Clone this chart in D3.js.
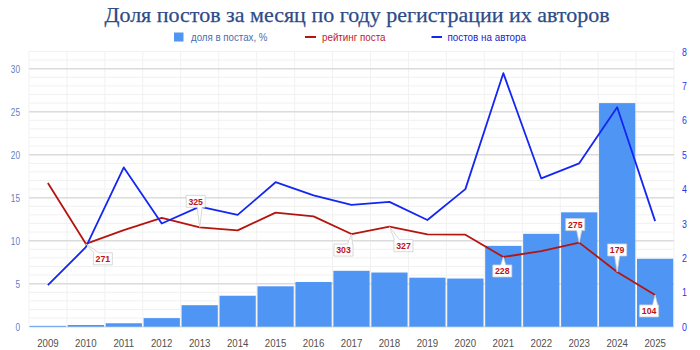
<!DOCTYPE html>
<html>
<head>
<meta charset="utf-8">
<script src="https://cdn.jsdelivr.net/npm/d3@7"></script>
<style>
  html, body { margin: 0; padding: 0; background: #fff; }
  svg { display: block; }
</style>
</head>
<body>
<svg id="chart" width="700" height="350"></svg>
<script>
// Registration years of authors
const years = ["2009","2010","2011","2012","2013","2014","2015","2016","2017",
               "2018","2019","2020","2021","2022","2023","2024","2025"];
// Share of the month's posts, % (bars, left axis)
const postShare = [0.1, 0.2, 0.4, 1.0, 2.5, 3.6, 4.7, 5.2, 6.5, 6.3, 5.7, 5.6, 9.4, 10.8, 13.3, 26.0, 7.9];
// Average post rating (red line)
const postRating = [470, 271, 316, 356, 325, 315, 373, 361, 303, 327, 302, 301, 228, 247, 275, 179, 104];
// Posts per author (blue line, right axis)
const postsPerAuthor = [1.21, 2.31, 4.63, 3.0, 3.49, 3.25, 4.2, 3.82, 3.54, 3.63, 3.1, 4.0, 7.37, 4.31, 4.75, 6.38, 3.07];
// Rating values that get a callout
const labelledYears = ["2010","2013","2017","2018","2021","2023","2024","2025"];
// Axis ticks
const leftTicks = [0, 5, 10, 15, 20, 25, 30];
const rightTicks = [0, 1, 2, 3, 4, 5, 6, 7, 8];
const legendLabels = ["доля в постах, %", "рейтинг поста", "постов на автора"];

// Callout box offsets from their point (dx, dy)
const calloutOffset = {
  "2010": [17, 15], "2013": [-4, -26], "2017": [-8, 16], "2018": [14, 19],
  "2021": [-1, 14], "2023": [-4, -18], "2024": [0, -22], "2025": [-6, 16]
};

const svg = d3.select("#chart");
const plot = { left: 29, right: 674, top: 51.5, bottom: 326.7 };

const x = d3.scaleBand().domain(years).range([plot.left, plot.right]).paddingInner(0.045).paddingOuter(0.02);
const xStep = (plot.right - plot.left) / years.length;
const yL = d3.scaleLinear().domain([0, 32]).range([plot.bottom, plot.top]);
const yR = d3.scaleLinear().domain([0, 8]).range([plot.bottom, plot.top]);
const yRating = d3.scaleLinear().domain([0, 900]).range([plot.bottom, plot.top]);
const cx = d => x(d) + x.bandwidth() / 2;

const colors = { bar: "#4f96f4", red: "#b5150f", blue: "#1426f2" };
const sans = "'Liberation Sans', Arial, sans-serif";

// Squeeze a text node horizontally so it reads like a narrow face
function condense(sel, factor) {
  sel.each(function () {
    const len = this.getComputedTextLength();
    d3.select(this).attr("textLength", len * factor).attr("lengthAdjust", "spacingAndGlyphs");
  });
}

// Title
svg.append("text")
  .attr("x", 357).attr("y", 22)
  .attr("text-anchor", "middle")
  .attr("font-family", "'Liberation Serif', 'DejaVu Serif', serif")
  .attr("font-size", 22)
  .attr("fill", "#2d4b88")
  .attr("stroke", "#2d4b88").attr("stroke-width", 0.25)
  .text("Доля постов за месяц по году регистрации их авторов");

// Legend
const lg = svg.append("g").attr("font-family", sans).attr("font-size", 11.5);
lg.append("rect").attr("x", 174).attr("y", 32.5).attr("width", 9.5).attr("height", 9).attr("fill", colors.bar);
lg.append("text").attr("x", 191).attr("y", 41).attr("fill", "#4d6cb0")
  .attr("textLength", 76.5).attr("lengthAdjust", "spacingAndGlyphs").text(legendLabels[0]);
lg.append("rect").attr("x", 305).attr("y", 36).attr("width", 11).attr("height", 2).attr("fill", colors.red);
lg.append("text").attr("x", 322).attr("y", 41).attr("fill", "#c0222a")
  .attr("textLength", 63.5).attr("lengthAdjust", "spacingAndGlyphs").text(legendLabels[1]);
lg.append("rect").attr("x", 431.5).attr("y", 36).attr("width", 10.5).attr("height", 2).attr("fill", colors.blue);
lg.append("text").attr("x", 447.5).attr("y", 41).attr("fill", "#1a22d0")
  .attr("textLength", 78.5).attr("lengthAdjust", "spacingAndGlyphs").text(legendLabels[2]);

// Grid: minor horizontal lines, vertical category lines, major lines
const grid = svg.append("g");
grid.selectAll("line.minor").data(d3.range(0, 33)).join("line")
  .attr("x1", plot.left).attr("x2", plot.right)
  .attr("y1", d => yL(d)).attr("y2", d => yL(d))
  .attr("stroke", "#f1f1f1").attr("stroke-width", 1);
grid.selectAll("line.vert").data(d3.range(0, years.length + 1)).join("line")
  .attr("x1", i => plot.left + i * xStep).attr("x2", i => plot.left + i * xStep)
  .attr("y1", plot.top).attr("y2", plot.bottom)
  .attr("stroke", "#f1f1f1").attr("stroke-width", 1);
grid.selectAll("line.major").data(leftTicks).join("line")
  .attr("x1", plot.left).attr("x2", plot.right)
  .attr("y1", d => yL(d)).attr("y2", d => yL(d))
  .attr("stroke", "#dcdcdc").attr("stroke-width", 1.5);

// Bars
svg.append("g").selectAll("rect").data(years).join("rect")
  .attr("x", d => x(d))
  .attr("width", x.bandwidth())
  .attr("y", (d, i) => yL(postShare[i]))
  .attr("height", (d, i) => plot.bottom - yL(postShare[i]))
  .attr("fill", colors.bar);

// Lines
const ratingLine = d3.line().x((d, i) => cx(years[i])).y(d => yRating(d));
const authorLine = d3.line().x((d, i) => cx(years[i])).y(d => yR(d));
svg.append("path").datum(postRating).attr("d", ratingLine)
  .attr("fill", "none").attr("stroke", colors.red).attr("stroke-width", 1.8).attr("stroke-linejoin", "round");
svg.append("path").datum(postsPerAuthor).attr("d", authorLine)
  .attr("fill", "none").attr("stroke", colors.blue).attr("stroke-width", 1.8).attr("stroke-linejoin", "round");

// Axes
const axL = svg.append("g").attr("transform", `translate(${plot.left - 9},0)`)
  .call(d3.axisLeft(yL).tickValues(leftTicks).tickSize(0).tickPadding(0));
axL.select(".domain").remove();
axL.selectAll("text").attr("font-family", sans).attr("font-size", 11).attr("fill", "#5f80c6").call(condense, 0.75);

const axR = svg.append("g").attr("transform", `translate(${plot.right + 8},0)`)
  .call(d3.axisRight(yR).tickValues(rightTicks).tickSize(0).tickPadding(0));
axR.select(".domain").remove();
axR.selectAll("text").attr("font-family", sans).attr("font-size", 11).attr("fill", "#2b35ee").call(condense, 0.8);

const axB = svg.append("g").attr("transform", `translate(0,${plot.bottom})`)
  .call(d3.axisBottom(x).tickSize(0).tickPadding(12.5));
axB.select(".domain").remove();
axB.selectAll("text").attr("font-family", sans).attr("font-size", 11.5).attr("fill", "#505050").call(condense, 0.84);

// Rating callouts: box with a pointer to the point
const callouts = svg.append("g");
labelledYears.forEach(yr => {
  const i = years.indexOf(yr);
  const px = cx(yr), py = yRating(postRating[i]);
  const [dx, dy] = calloutOffset[yr];
  const bx = px + dx, by = py + dy;
  const w = 19, h = 12;
  const x0 = bx - w / 2, x1 = bx + w / 2, y0 = by - h / 2, y1 = by + h / 2;
  const tipW = 2.5;
  const bxTip = Math.max(x0 + 3, Math.min(x1 - 3, px));
  const path = dy < 0
    ? `M${x0},${y0}H${x1}V${y1}H${bxTip + tipW}L${px},${py}L${bxTip - tipW},${y1}H${x0}Z`
    : `M${x0},${y0}H${bxTip - tipW}L${px},${py}L${bxTip + tipW},${y0}H${x1}V${y1}H${x0}Z`;
  callouts.append("path").attr("d", path)
    .attr("fill", "#fff").attr("stroke", "#cfcfcf").attr("stroke-width", 0.8);
  callouts.append("text")
    .attr("x", bx).attr("y", by + 3.4)
    .attr("text-anchor", "middle")
    .attr("font-family", sans)
    .attr("font-weight", "bold")
    .attr("font-size", 9.5)
    .attr("fill", "#c01218")
    .text(postRating[i])
    .call(condense, 0.92);
});
</script>
</body>
</html>
